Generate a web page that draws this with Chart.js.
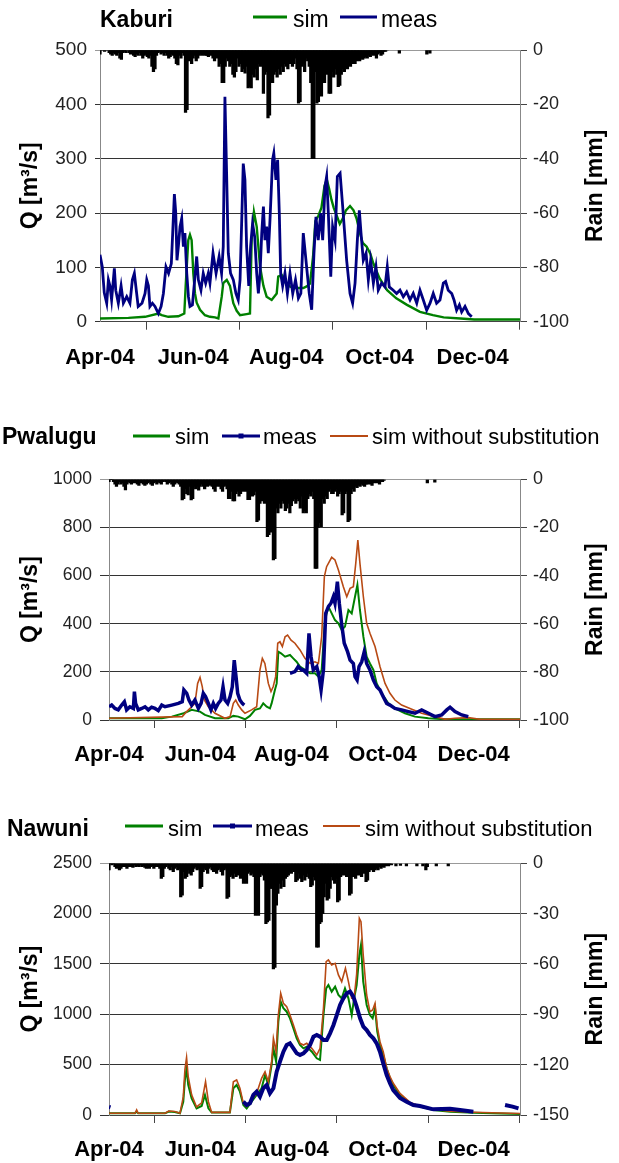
<!DOCTYPE html>
<html>
<head>
<meta charset="utf-8">
<script src="https://cdn.jsdelivr.net/npm/chart.js@4.4.1/dist/chart.umd.min.js"></script>
<style>
  body { margin: 0; background: #fff; width: 619px; height: 1163px; position: relative; overflow: hidden; }
  canvas { position: absolute; left: 0; }
</style>
</head>
<body>
<canvas id="kaburi" width="619" height="385" style="top:0px"></canvas>
<canvas id="pwalugu" width="619" height="380" style="top:400px"></canvas>
<canvas id="nawuni" width="619" height="378" style="top:785px"></canvas>
<script>
// x axis: days since 1 Apr 2004, tick every two months
const tickDays = [0, 61, 122, 183, 244];
const tickLabels = ['Apr-04', 'Jun-04', 'Aug-04', 'Oct-04', 'Dec-04'];

// ---- Kaburi: [day, Q m3/s]
const kaburiSim = [[0,6],[18.6,7],[29.5,9],[38.2,15],[40.4,12],[44.7,9],[51.3,10],[55.2,15],[56.1,66],[57.8,150],[58.9,160],[60,150],[61.1,89],[62.2,52],[63.3,35],[65.5,22],[68.7,12],[72,9],[75.3,8],[77.5,6],[79.7,46],[80.7,71],[83,77],[85.1,66],[87.3,34],[89.5,20],[91.7,12],[96,14],[98.2,15],[99.3,150],[100.8,202],[102.6,175],[104.8,101],[107,66],[109.1,46],[112.4,40],[115.7,52],[116.7,83],[119,86],[122.2,68],[126.6,62],[133.1,62],[135.3,65],[137.5,70],[139.5,120],[141,185],[143,195],[145,210],[147,250],[148.5,262],[150,245],[151.5,225],[153,210],[155,195],[157,180],[159,190],[161,205],[163.7,213],[166,205],[168,190],[170,165],[172,145],[174.6,138],[177,125],[179,107],[183,80],[188,58],[194,43],[201,31],[209.5,18],[218,12],[225,8],[236,6],[245,4],[275,4]];
const kaburiMeas = [[0,123],[1.5,101],[2.8,53],[4.4,34],[5.5,77],[6.5,66],[7.6,40],[9.4,98],[10.3,58],[12,34],[13.8,66],[15.3,34],[17.5,46],[19.6,34],[21.2,77],[22.5,89],[24,52],[25,28],[27.5,34],[29.5,52],[30.6,77],[31.7,66],[32.7,28],[34.3,34],[36,28],[38.2,15],[40,28],[41.5,52],[43.2,101],[44.9,89],[46.7,107],[47.6,163],[48.7,235],[49.6,200],[50.4,113],[51.3,138],[52.4,175],[53.5,190],[54.6,138],[55.6,163],[56.8,89],[57.9,46],[58.9,28],[60.5,31],[61.8,71],[63.3,120],[64.4,77],[66.1,58],[67.6,89],[69.2,71],[70.9,89],[72,71],[74,126],[76,89],[78,120],[79.6,89],[80.7,138],[81.8,414],[82.9,273],[84,126],[85.5,89],[87.3,77],[89,52],[90.5,40],[91.7,77],[92.8,187],[93.8,291],[94.9,261],[96,138],[97.4,66],[98.6,138],[99.9,181],[101.3,156],[102.6,89],[103.7,52],[104.8,89],[105.9,163],[107,212],[108,150],[109.1,175],[110.2,126],[111.3,187],[113,298],[113.8,310],[115.2,261],[116.3,298],[117.4,200],[118.3,89],[119.6,66],[121.1,89],[122.7,52],[124.4,89],[126.2,52],[128,77],[129.9,43],[131.5,52],[133.1,163],[134.4,126],[135.7,89],[137,52],[138.6,22],[140.1,126],[141.4,193],[142.9,150],[144.5,200],[145.8,150],[147.3,248],[148.4,267],[149.5,200],[151.1,83],[152.3,175],[153.9,150],[155.4,267],[157.2,273],[158.9,212],[161.5,113],[163.7,52],[165.4,34],[167,71],[168.5,150],[169.8,205],[170.9,163],[172.4,113],[174.2,126],[175.7,77],[177.2,113],[179,71],[180.7,101],[182.2,58],[184.4,71],[186.6,64],[188.1,101],[189.4,64],[192,58],[194.2,52],[196.4,58],[198.6,46],[200.8,55],[203,40],[205.1,52],[207.4,34],[209.5,58],[211.7,40],[213.9,21],[216.1,34],[218.2,52],[220.4,34],[222.6,40],[224.8,71],[226.3,74],[228,58],[230.3,52],[231.8,40],[233.5,21],[235.3,31],[236.8,18],[239,28],[241.2,15],[243.4,9]];
// daily rain (mm) from day 0, then isolated late showers [day, mm]
const kaburiRain = [1.5,0,0,0.5,0,0,1,1.5,2,1, 1.5,2,1,3,3.5,1,0.5,1,0,1, 1.5,1,2,2.5,1.5,2,1,2,3,2, 1.5,2.5,3,2,6,8,7,2,1,0.5, 1.5,1,2,1,2,3,2.5,1.5,2,3, 5,5.5,2,3,1,2,23,22,4,3, 5,3,2,4,3,2,1.5,2,1.5,2, 2,2.5,1.5,2,3,4,2,3,6,5, 12,12,6,3,4,6,5,9,10,8, 3,6,5,8,7,8.5,6,14,13.5,14, 9,10,7,11,5,6,5,16,9,8, 25,24,10,12,9,8,10,7,9,6, 8,5,6,7,5,4,6,5,3,7, 19.6,19,6,5,8,3,4,6,12,40, 40,8,19.6,19,15,17,10,12,8,9, 16,16,8,10,7,9,13.5,13,9,7, 8,6,7,5,6,4,5,5,4,3.5, 4,3,3.5,3,2.5,3,2,2.5,1.5,2, 1.5,3,1.5,1,2,1.5,0.5,0.5,0];
const kaburiLateRain = [[196,1.2],[214,1.5],[216,1.2]];

// ---- Pwalugu
const pwaluguSim = [[0,7],[35.3,7],[42,14],[50,28],[55.3,42],[60.9,35],[64.2,21],[70.9,7],[79.8,7],[83.2,17],[86.5,14],[91,3],[94.3,17],[97.7,42],[101,48],[103.2,69],[105.5,55],[107.7,48],[108.8,69],[111,125],[112.2,152],[113.3,284],[115.1,277],[117.8,263],[121.1,270],[123.3,256],[125.5,242],[127.8,222],[131.1,208],[134.5,194],[137.8,194],[140.1,180],[142.3,208],[144.5,415],[146.8,471],[149,443],[151.2,415],[153.5,402],[155.7,374],[157.9,388],[160.2,457],[162.4,443],[164.6,512],[166.2,561],[167.9,457],[170.2,346],[172.4,263],[174.6,235],[176.9,208],[179.1,152],[182.4,111],[186.9,69],[191.3,48],[198,28],[204.7,14],[213.7,7],[224.8,3],[275,3]];
const pwaluguMeas = [[0,55],[1.8,62],[4,48],[6.2,42],[8.5,62],[10.3,76],[11.8,42],[14,55],[16.3,48],[17,118],[17.8,69],[19.6,42],[21.9,48],[24.1,55],[26.3,42],[28.5,53],[30.8,48],[33,39],[35.3,62],[37.5,55],[42,62],[46.4,69],[49,76],[50.1,125],[52,111],[53.5,83],[55.3,62],[57.5,83],[59.8,48],[61.6,69],[63.1,111],[64.6,97],[66.5,69],[68.2,42],[69.8,69],[71.3,48],[73.1,69],[74.9,83],[76.3,138],[77.6,83],[79.4,69],[81,97],[82.5,138],[83.8,249],[85,180],[86.1,111],[87.6,83],[89.2,69],[90.5,62],[100,null],[121.1,194],[124.4,201],[126.6,222],[128.9,208],[130,208],[132.3,194],[133.8,360],[135.2,263],[136.7,208],[139,222],[140.6,180],[141.9,125],[143.5,208],[145,443],[146.8,471],[148.5,485],[150.1,512],[151.2,485],[152.8,575],[154.1,485],[155.6,402],[157.4,319],[159.6,284],[161.3,249],[163.5,235],[164.6,180],[166,166],[167.3,222],[169.1,242],[170.8,284],[172.4,235],[174.6,208],[176.9,166],[179.1,138],[181.3,125],[183.5,97],[185.8,69],[188,62],[191.3,48],[195.8,42],[200.3,35],[204.8,28],[209.2,42],[213.7,28],[218.1,14],[222.6,21],[226,42],[228.2,53],[231.5,35],[236,21],[240.4,14]];
const pwaluguNoSub = [[0,7],[49,14],[52,35],[55.3,55],[57.5,69],[59.3,152],[60.9,177],[62.4,139],[63.8,83],[66.5,55],[70.9,28],[77.6,7],[81,14],[83.2,69],[84.8,83],[86.5,62],[88.8,42],[91,28],[95.4,42],[98.8,55],[101,208],[102.6,256],[104.3,235],[106.6,152],[108.4,118],[109.9,139],[111.5,180],[112.9,319],[114.4,325],[116,305],[117.8,346],[119.5,353],[121.8,332],[124.4,319],[127.8,291],[131.1,256],[134.5,235],[137.8,242],[140.1,235],[142.3,346],[144.1,596],[145.6,637],[149,676],[151.2,665],[153.5,623],[156.8,554],[159.1,512],[161.3,547],[163.5,554],[165.1,651],[166.5,748],[167.9,651],[170.2,512],[172.4,402],[174.6,360],[178,305],[181.3,222],[184.7,152],[188,111],[191.3,83],[195.8,62],[201.4,48],[209.2,28],[218.1,14],[224.8,3],[231.5,7],[240.4,10],[248.2,3],[275,3]];
const pwaluguRain = [1,0,0,1,2,3,2,1,2,1.5, 3,4.4,2,1,1.5,2,1,1.5,1,2, 2.5,1.5,1,2,2.5,2,1.5,1,2,2.5, 1.5,1,2,1,1.5,2,1,0.5,1,2, 1.5,1,2,3,2,1,1.5,2,3,8.6, 8,4,6,6.5,3,8.6,8,3,4,3, 4.5,3,2,3,4,2.5,3,2,2.5,3, 4,5,3,2,3,4,5,3,2.5,4, 8,8,5,9,9,6,5,7,6,4, 5,3,5,8.5,8.5,4,7,6.5,5,17.6, 17,10,9,7,10,6,23.8,23,22,8, 33.5,33,12,14,10,12,9,10,13,12, 10,14,11,9,8,10,8,9,12,7, 14,13,14,8,6,7,5,8,37,37, 20,18,19.7,8,10,7,8,5,4,6, 6,5,4,7,6,5,14.8,14,6,5, 17.6,17,6,4,5,3,3.5,2.5,3,2, 2.5,3,2,2,1.5,2,2.5,1.5,1,1.5, 1,2,1,1,0.5];
const pwaluguLateRain = [[213,1.5],[218,1.2]];

// ---- Nawuni
const nawuniSim = [[0,17],[17.4,17],[18.5,35],[19.5,17],[37.5,17],[40,35],[44,30],[47.5,17],[49.7,132],[50.8,350],[51.9,464],[53,300],[55.3,165],[58.6,66],[62,90],[64.2,199],[66.5,66],[68.7,26],[80.9,26],[83.2,265],[85.4,298],[87.6,232],[89.9,99],[92.1,66],[95.4,132],[98.8,199],[102.1,265],[104.4,397],[106.6,298],[108.8,497],[110,662],[111.8,530],[113.3,927],[114.9,1126],[116.7,1060],[118.9,1026],[121.1,960],[123.4,861],[125.6,762],[127.8,695],[130.1,662],[132.3,679],[135.7,629],[139,563],[141.2,546],[143.5,993],[145.3,1258],[146.8,1291],[149,1225],[151.3,1275],[153.5,1192],[155.7,1159],[157.9,1258],[160.2,1159],[162.4,993],[164,1159],[165.7,1291],[167.5,1589],[168.6,1689],[170.1,1324],[172.4,1093],[174.6,993],[176.4,960],[178,1060],[179.5,828],[181.3,695],[183.5,596],[185.8,464],[188,364],[190.2,298],[194.7,199],[201.4,116],[208,83],[217,50],[228.2,33],[243.8,23],[275,10]];
const nawuniMeas = [[0,80],[1,75],[2,null],[89.9,132],[92.1,99],[94.3,116],[96.6,199],[98.8,232],[101,182],[103.2,265],[105.5,298],[107.7,215],[110,265],[112.2,430],[114.4,530],[116.7,629],[118.9,695],[121.1,712],[123.4,662],[125.6,613],[127.8,596],[130.1,613],[132.3,646],[134.5,695],[136.8,778],[139,795],[141.2,778],[143.5,745],[145.7,745],[147.9,811],[150.2,894],[152.4,993],[154.6,1093],[156.8,1159],[159.1,1209],[161.3,1225],[163.5,1175],[165.7,1076],[168,960],[170.2,877],[172.4,844],[174.6,795],[176.9,762],[179.1,712],[181.3,629],[183.5,513],[185.8,397],[188,315],[190.2,248],[194.7,170],[199.1,132],[203.6,99],[208,90],[217,56],[228.2,62],[234.9,50],[243.8,33],[250,null],[265,99],[270,83],[274,66]];
const nawuniNoSub = [[0,17],[17.4,17],[18.5,50],[19.5,17],[37.5,17],[40,40],[44,35],[47.5,17],[49.7,180],[50.8,450],[51.9,570],[53,380],[55.3,200],[58.6,80],[62,120],[64.6,331],[66.5,132],[68.7,26],[80.9,26],[83.2,331],[85.4,348],[87.6,265],[89.9,116],[92.1,83],[95.4,149],[98.8,215],[102.1,364],[104.4,430],[106.6,331],[108.8,530],[110,762],[111.8,629],[113.3,993],[114.9,1209],[116.7,1109],[118.9,1076],[121.1,993],[123.4,894],[125.6,795],[127.8,712],[130.1,695],[132.3,712],[135.7,662],[139,596],[141.2,662],[143.5,1060],[145.3,1523],[146.8,1540],[149,1490],[151.3,1507],[153.5,1391],[155.7,1324],[158.2,1457],[160.2,1324],[162.4,1159],[164,1159],[165.7,1400],[167.5,1953],[168.6,1920],[170.1,1589],[172.4,1192],[174.6,1026],[176.4,1043],[178,1109],[179.5,877],[181.3,728],[183.5,629],[185.8,464],[188,381],[190.2,315],[194.7,215],[201.4,125],[208,90],[217,55],[228.2,38],[243.8,28],[275,15]];
const nawuniRain = [4,0,1,0,2,3,2,4,3,2, 1,2,3,2,1.5,2,2.5,1,2,1.5, 2,1,2,1.5,2.5,3,2,3,2,1.5, 3,2,1,2,3,9,8,3,2,1, 3,4,2,5,3,2,4,3,20,19, 5,9,8,4,6,7,5,3,2,4, 3,15,14,5,3,4,6,3,2,4, 5,3,6,4,3,5,7,4,3,21, 20,8,7,9,6,8,7,5,9,7, 12,11,12,6,5,7,6,8,31,30, 31,8,6,7,10,36,35,34,15,15, 63,62,25,18,12,15,10,14,9,8, 7,5,6,4,5,11,10,6,9,11, 7,10,8,6,9,14,13,8,10,50, 50,36,35,30,20,12,22,21,15,8, 10,12,9,23,22,8,6,7,5,8, 6,19,18,8,5,9,6,7,4,8, 5,6,11,10,5,4,3,5,4,3, 4,2,3,2,2.5,1.5,1,1.5,0.8,1];
const nawuniLateRain = [[192,1.5],[195,1.2],[199,1.5],[206,1.5],[210,1.5],[212,4],[213,2],[219,1.5],[227,1.5]];

const GREEN = '#008000', NAVY = '#000080', BROWN = '#b84a14';
const FONT = '"Liberation Sans", Arial, sans-serif';
Chart.defaults.font.family = FONT;

const toPoints = pairs => pairs.map(([x, y]) => ({ x, y }));
const rainPoints = (daily, late) =>
  daily.map((mm, d) => ({ x: d, y: -mm })).concat(late.map(([d, mm]) => ({ x: d, y: -mm })));

// title, legend and both axis titles
const headerPlugin = {
  id: 'header',
  afterDraw(chart, args, o) {
    const ctx = chart.ctx;
    ctx.save();
    ctx.fillStyle = '#000';
    ctx.textBaseline = 'alphabetic';
    ctx.textAlign = 'left';
    ctx.font = `bold 23px ${FONT}`;
    ctx.fillText(o.title, o.titleX, o.baseY);
    ctx.font = `${o.legendSize}px ${FONT}`;
    o.items.forEach(it => {
      const ds = chart.data.datasets[it.ds];
      ctx.strokeStyle = ds.borderColor;
      ctx.lineWidth = it.w;
      ctx.beginPath();
      ctx.moveTo(it.x0, o.lineY);
      ctx.lineTo(it.x1, o.lineY);
      ctx.stroke();
      if (it.marker) {
        ctx.fillStyle = ds.borderColor;
        ctx.fillRect((it.x0 + it.x1) / 2 - 2.5, o.lineY - 2.5, 5, 5);
      }
      ctx.fillStyle = '#000';
      ctx.fillText(ds.label, it.tx, o.baseY);
    });
    const a = chart.chartArea;
    const cy = (a.top + a.bottom) / 2;
    ctx.font = `bold 23px ${FONT}`;
    ctx.textAlign = 'center';
    ctx.textBaseline = 'middle';
    [[31, 'Q [m³/s]'], [596, 'Rain [mm]']].forEach(([x, t]) => {
      ctx.save();
      ctx.translate(x, cy);
      ctx.rotate(-Math.PI / 2);
      ctx.fillText(t, 0, 0);
      ctx.restore();
    });
    ctx.restore();
  }
};

function makePanel(id, p) {
  const datasets = [
    { type: 'line', label: 'sim', data: toPoints(p.sim), borderColor: GREEN, borderWidth: p.simW, order: 3 },
    { type: 'line', label: 'meas', data: toPoints(p.meas), borderColor: NAVY, borderWidth: p.measW, order: 1 }
  ];
  if (p.noSub) {
    datasets.push({ type: 'line', label: 'sim without substitution', data: toPoints(p.noSub), borderColor: BROWN, borderWidth: 1.6, order: 2 });
  }
  datasets.forEach(d => Object.assign(d, { pointRadius: 0, tension: 0, fill: false, spanGaps: false, yAxisID: 'y' }));
  datasets.push({ type: 'bar', label: 'rain', data: rainPoints(p.rain, p.lateRain), backgroundColor: '#000',
                  barThickness: 2.6, yAxisID: 'y2', order: 10 });

  new Chart(document.getElementById(id), {
    type: 'line',
    data: { datasets },
    plugins: [headerPlugin],
    options: {
      responsive: false,
      animation: false,
      devicePixelRatio: 1,
      layout: { padding: { top: p.top, left: 0, right: 0, bottom: 0 } },
      plugins: { legend: { display: false }, tooltip: { enabled: false }, header: p.header },
      scales: {
        x: {
          type: 'linear', min: 0, max: 275, offset: false,
          afterBuildTicks: s => { s.ticks = tickDays.map(v => ({ value: v })); },
          afterFit: s => { s.height = p.xAxisH; },
          grid: { drawOnChartArea: false, tickLength: 8, color: '#444' },
          border: { color: '#444' },
          ticks: { autoSkip: false, maxRotation: 0, padding: p.xPad, color: '#000',
                   font: { size: 22, weight: 'bold' }, callback: v => tickLabels[tickDays.indexOf(v)] }
        },
        y: {
          position: 'left', min: 0, max: p.qMax,
          afterFit: s => { s.width = p.left; },
          ticks: { stepSize: p.qStep, padding: 8, color: '#222', font: { size: p.qFont }, callback: v => String(v) },
          grid: { color: c => (c.tick && c.tick.value === p.qMax ? '#999' : '#333'), tickLength: p.qTick },
          border: { color: '#888' }
        },
        y2: {
          position: 'right', min: p.rMin, max: 0,
          afterFit: s => { s.width = 99; },
          ticks: { stepSize: p.rStep, padding: 6, color: '#222', font: { size: 18 }, callback: v => String(v) },
          grid: { drawOnChartArea: false, tickLength: 7, color: '#444' },
          border: { color: '#888' }
        }
      }
    }
  });
}

makePanel('kaburi', {
  sim: kaburiSim, meas: kaburiMeas, rain: kaburiRain, lateRain: kaburiLateRain,
  simW: 2.4, measW: 2.8,
  top: 50, xAxisH: 63.3, xPad: 15.4, left: 100, qTick: 5, qFont: 19,
  qMax: 500, qStep: 100, rMin: -100, rStep: 20,
  header: { title: 'Kaburi', titleX: 100, baseY: 27, lineY: 17, legendSize: 23,
            items: [{ ds: 0, x0: 253, x1: 287, tx: 293, w: 3 }, { ds: 1, x0: 340, x1: 377, tx: 381, w: 3 }] }
});

makePanel('pwalugu', {
  sim: pwaluguSim, meas: pwaluguMeas, noSub: pwaluguNoSub, rain: pwaluguRain, lateRain: pwaluguLateRain,
  simW: 2, measW: 3.5,
  top: 79.3, xAxisH: 60, xPad: 13.8, left: 109, qTick: 9, qFont: 17.5,
  qMax: 1000, qStep: 200, rMin: -100, rStep: 20,
  header: { title: 'Pwalugu', titleX: 2, baseY: 44, lineY: 36, legendSize: 22,
            items: [{ ds: 0, x0: 133, x1: 170, tx: 175, w: 3 }, { ds: 1, x0: 222, x1: 260, tx: 263, w: 3, marker: true },
                    { ds: 2, x0: 330, x1: 368, tx: 372, w: 2 }] }
});

makePanel('nawuni', {
  sim: nawuniSim, meas: nawuniMeas, noSub: nawuniNoSub, rain: nawuniRain, lateRain: nawuniLateRain,
  simW: 2, measW: 4,
  top: 78.3, xAxisH: 48, xPad: 13.8, left: 109, qTick: 9, qFont: 17.5,
  qMax: 2500, qStep: 500, rMin: -150, rStep: 30,
  header: { title: 'Nawuni', titleX: 7, baseY: 51, lineY: 41, legendSize: 22,
            items: [{ ds: 0, x0: 125, x1: 163, tx: 168, w: 3 }, { ds: 1, x0: 213, x1: 252, tx: 255, w: 3, marker: true },
                    { ds: 2, x0: 323, x1: 360, tx: 365, w: 2 }] }
});
</script>
</body>
</html>
